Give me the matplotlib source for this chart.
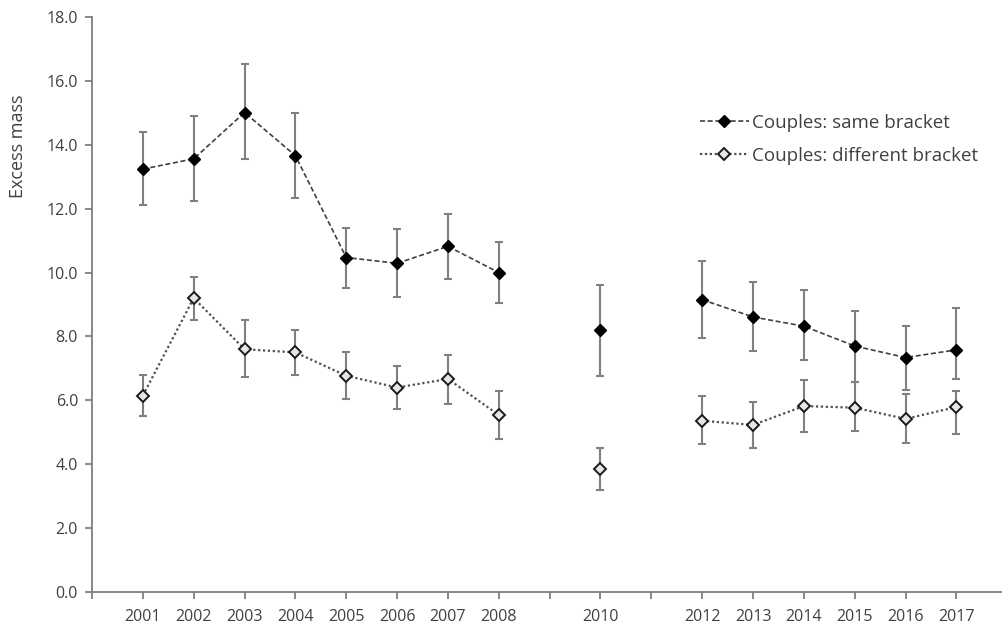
import numpy as np
import matplotlib
matplotlib.use("Agg")
import matplotlib.pyplot as plt

plt.rcParams['font.family'] = ['Open Sans', 'DejaVu Sans']

years = ['2001', '2002', '2003', '2004', '2005', '2006', '2007', '2008', '2009',
         '2010', '2011', '2012', '2013', '2014', '2015', '2016', '2017']
tick_labels = ['2001', '2002', '2003', '2004', '2005', '2006', '2007', '2008', '',
               '2010', '', '2012', '2013', '2014', '2015', '2016', '2017']

same_val = [13.24, 13.56, 15.01, 13.66, 10.47, 10.29, 10.82, 10.00, np.nan,
            8.19, np.nan, 9.15, 8.61, 8.32, 7.70, 7.34, 7.58]
same_hi = [14.39, 14.91, 16.53, 15.01, 11.39, 11.35, 11.83, 10.95, np.nan,
           9.62, np.nan, 10.37, 9.69, 9.44, 8.81, 8.34, 8.89]
same_lo = [12.11, 12.25, 13.54, 12.32, 9.52, 9.23, 9.80, 9.05, np.nan,
           6.75, np.nan, 7.95, 7.53, 7.25, 6.57, 6.31, 6.66]

diff_val = [6.15, 9.20, 7.60, 7.50, 6.77, 6.40, 6.67, 5.54, np.nan,
            3.85, np.nan, 5.36, 5.23, 5.82, 5.77, 5.42, 5.79]
diff_hi = [6.78, 9.86, 8.50, 8.20, 7.51, 7.06, 7.41, 6.29, np.nan,
           4.52, np.nan, 6.13, 5.95, 6.63, 6.57, 6.21, 6.29]
diff_lo = [5.50, 8.50, 6.72, 6.80, 6.05, 5.74, 5.90, 4.79, np.nan,
           3.20, np.nan, 4.63, 4.52, 5.01, 5.04, 4.67, 4.94]

W, H = 1003, 627
fig = plt.figure(figsize=(W / 100, H / 100), dpi=100)
left, right, bottom, top = 92, 1003, 592, 17
ax = fig.add_axes([left / W, 1 - bottom / H, (right - left) / W, (bottom - top) / H])

x = np.arange(1, len(years) + 1)
sv, sh, sl = map(np.array, (same_val, same_hi, same_lo))
dv, dh, dl = map(np.array, (diff_val, diff_hi, diff_lo))

ebc = '#808080'
ax.errorbar(x, sv, yerr=[sv - sl, sh - sv], fmt='none', ecolor=ebc, elinewidth=1.5,
            capsize=3.2, capthick=1.5, zorder=2)
ax.errorbar(x, dv, yerr=[dv - dl, dh - dv], fmt='none', ecolor=ebc, elinewidth=1.5,
            capsize=3.2, capthick=1.5, zorder=2)

ax.plot(x, sv, linestyle=(0, (3, 1.6)), color='#404040', lw=1.2, marker='D',
        markersize=6.5, markerfacecolor='black', markeredgecolor='black',
        label='Couples: same bracket', zorder=3)
ax.plot(x, dv, linestyle=(0, (1, 1.2)), color='#505050', lw=1.6, marker='D',
        markersize=6.5, markerfacecolor='#e6e6e6', markeredgecolor='#1a1a1a',
        markeredgewidth=1.4, label='Couples: different bracket', zorder=3)

ax.set_xlim(0, (right - left) / 50.85)
ax.set_ylim(0, 18)
ax.set_xticks(np.arange(0, len(years) + 1))
ax.set_xticklabels([''] + tick_labels)
ax.set_yticks(np.arange(0, 18.1, 2))
ax.set_yticklabels([f'{v:.1f}' for v in np.arange(0, 18.1, 2)])

for s in ['top', 'right']:
    ax.spines[s].set_visible(False)
for s in ['left', 'bottom']:
    ax.spines[s].set_color('#7f7f7f')
    ax.spines[s].set_linewidth(1.3)
ax.tick_params(axis='both', colors='#7f7f7f', labelcolor='#404040', labelsize=11.5,
               length=5, width=1.3)
ax.tick_params(axis='x', pad=7)
ax.tick_params(axis='y', pad=5)

fig.text(18 / W, 1 - 146 / H, 'Excess mass', rotation=90, ha='center', va='center',
         fontsize=13, color='#404040')

leg = ax.legend(loc='upper left', bbox_to_anchor=(683 / W, 1 - 97 / H),
                bbox_transform=fig.transFigure, frameon=False, fontsize=13.5,
                handlelength=2.6, handletextpad=0.2, labelspacing=0.8,
                labelcolor='#404040')

fig.savefig('out.png', dpi=100)
